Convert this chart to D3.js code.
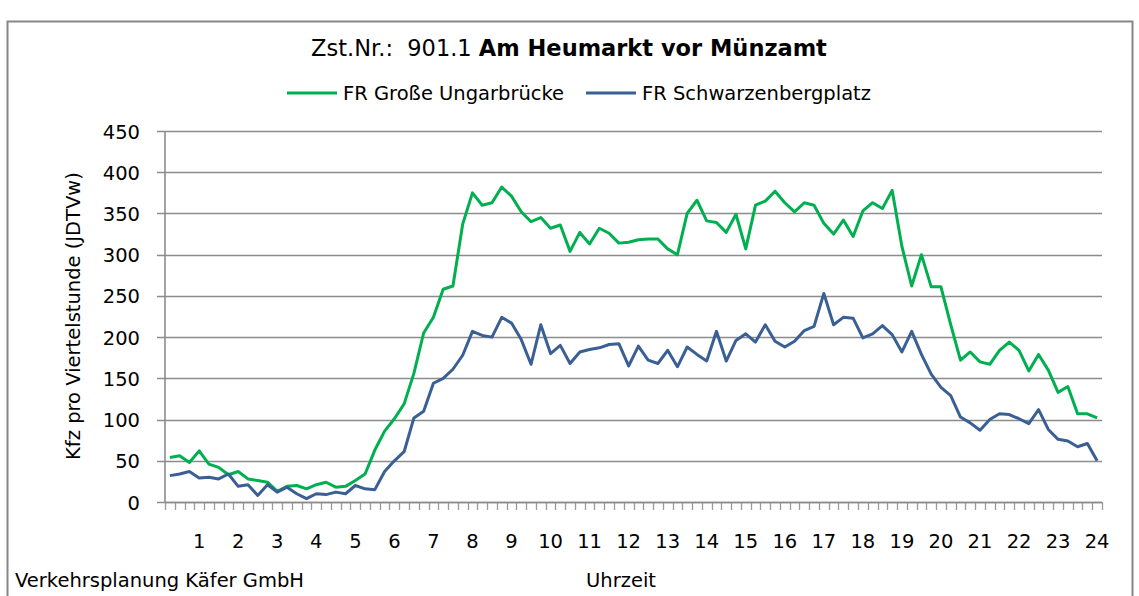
<!DOCTYPE html>
<html>
<head>
<meta charset="utf-8">
<script src="https://cdn.jsdelivr.net/npm/d3@7"></script>
<style>
  body { margin: 0; background: #fff; }
  text { font-family: "DejaVu Sans", sans-serif; fill: #000; }
</style>
</head>
<body>
<div id="chart"></div>
<script>
// quarter-hour values, 96 per series (00:15 ... 24:00)
var ungarbruecke = [
  54, 56, 48, 62, 46, 42, 33, 37, 28, 26, 24, 13, 19, 20, 16, 21,
  24, 18, 19, 26, 34, 63, 86, 101, 119, 156, 205, 224, 258, 262, 337, 375,
  360, 363, 382, 371, 352, 340, 345, 332, 336, 304, 327, 313, 332, 326, 314, 315,
  318, 319, 319, 307, 300, 350, 366, 341, 339, 327, 349, 307, 360, 365, 377, 363,
  352, 363, 360, 338, 325, 342, 322, 353, 363, 356, 378, 310, 262, 300, 261, 261,
  215, 172, 182, 170, 167, 184, 194, 184, 159, 179, 160, 133, 140, 107, 107, 102
];
var schwarzenberg = [
  32, 34, 37, 29, 30, 28, 34, 19, 21, 8, 21, 12, 18, 10, 4, 10,
  9, 12, 10, 20, 16, 15, 37, 50, 61, 102, 110, 144, 150, 161, 178, 207,
  202, 200, 224, 217, 197, 167, 215, 180, 190, 168, 182, 185, 187, 191, 192, 165,
  189, 172, 168, 184, 164, 188, 179, 171, 207, 171, 196, 204, 194, 215, 195, 188,
  195, 208, 213, 253, 215, 224, 223, 199, 204, 214, 203, 182, 207, 179, 155, 139,
  129, 103, 96, 87, 100, 107, 106, 101, 95, 112, 88, 76, 74, 67, 71, 50
];
var seriesNames = ["FR Große Ungarbrücke", "FR Schwarzenbergplatz"];
var seriesColors = ["#00b050", "#3a5f94"];
var yTicks = [0, 50, 100, 150, 200, 250, 300, 350, 400, 450];
var hourLabels = d3.range(1, 25);

var W = 1139, H = 596;
var plot = { left: 165, right: 1102, top: 131, bottom: 502 };
var fs = "19.5px";

var svg = d3.select("#chart")
    .append("svg")
    .attr("width", W)
    .attr("height", H);

// outer chart frame
svg.append("rect")
    .attr("x", 7.5).attr("y", 21.5)
    .attr("width", 1125).attr("height", 600)
    .attr("fill", "none")
    .attr("stroke", "#878787")
    .attr("stroke-width", 2);

var x = d3.scaleBand()
    .domain(d3.range(ungarbruecke.length))
    .range([plot.left, plot.right]);

var y = d3.scaleLinear()
    .domain([0, 450])
    .range([plot.bottom, plot.top]);

// horizontal gridlines (start a bit left of the axis, like outward ticks)
svg.append("g")
    .selectAll("line")
    .data(yTicks)
    .enter()
    .append("line")
    .attr("x1", plot.left - 8)
    .attr("x2", plot.right)
    .attr("y1", function (d) { return Math.round(y(d)) + 0.5; })
    .attr("y2", function (d) { return Math.round(y(d)) + 0.5; })
    .attr("stroke", "#8c8c8c")
    .attr("stroke-width", 1.6);

// y axis labels
var yAxis = svg.append("g")
    .attr("transform", "translate(" + (plot.left - 8) + ",0)")
    .call(d3.axisLeft(y).tickValues(yTicks).tickSize(0).tickPadding(17));
yAxis.select(".domain").remove();
yAxis.selectAll("text")
    .style("font-size", fs)
    .attr("dy", "0.36em");

// y axis line
svg.append("line")
    .attr("x1", plot.left).attr("x2", plot.left)
    .attr("y1", plot.top).attr("y2", plot.bottom)
    .attr("stroke", "#8c8c8c")
    .attr("stroke-width", 1.6);

// x tick marks at category boundaries
var bounds = x.domain().map(function (d) { return x(d); }).concat([plot.right]);
svg.append("g")
    .selectAll("line")
    .data(bounds)
    .enter()
    .append("line")
    .attr("x1", function (d) { return Math.round(d) + 0.5; })
    .attr("x2", function (d) { return Math.round(d) + 0.5; })
    .attr("y1", plot.bottom)
    .attr("y2", plot.bottom + 8)
    .attr("stroke", "#9a9a9a")
    .attr("stroke-width", 1.3);

// x axis labels: every fourth quarter-hour is a full hour
var labelIdx = hourLabels.map(function (h) { return h * 4 - 1; });
var xAxis = svg.append("g")
    .attr("transform", "translate(0," + plot.bottom + ")")
    .call(d3.axisBottom(x)
        .tickValues(labelIdx)
        .tickSize(0)
        .tickPadding(32)
        .tickFormat(function (d) { return (d + 1) / 4; }));
xAxis.select(".domain").remove();
xAxis.selectAll("text").style("font-size", fs);

// x axis line
svg.append("line")
    .attr("x1", plot.left).attr("x2", plot.right)
    .attr("y1", plot.bottom + 0.5).attr("y2", plot.bottom + 0.5)
    .attr("stroke", "#8c8c8c")
    .attr("stroke-width", 1.6);

// series lines
var line = d3.line()
    .x(function (d, i) { return x(i) + x.bandwidth() / 2; })
    .y(function (d) { return y(d); });

[ungarbruecke, schwarzenberg].forEach(function (s, k) {
    svg.append("path")
        .datum(s)
        .attr("d", line)
        .attr("fill", "none")
        .attr("stroke", seriesColors[k])
        .attr("stroke-width", 3)
        .attr("stroke-linejoin", "round");
});

// title
var title = svg.append("text")
    .attr("x", 569)
    .attr("y", 56)
    .attr("text-anchor", "middle")
    .style("font-size", "22.5px")
    .style("white-space", "pre");
title.append("tspan").text("Zst.Nr.:  901.1 ");
title.append("tspan").style("font-weight", "bold").text("Am Heumarkt vor Münzamt");

// legend
var legendX = [287, 586];
seriesNames.forEach(function (name, k) {
    var g = svg.append("g").attr("transform", "translate(" + legendX[k] + ",93)");
    g.append("line")
        .attr("x1", 0).attr("x2", 50)
        .attr("stroke", seriesColors[k])
        .attr("stroke-width", 3);
    g.append("text")
        .attr("x", 56)
        .attr("y", 7)
        .style("font-size", fs)
        .text(name);
});

// axis titles
svg.append("text")
    .attr("transform", "translate(80,316) rotate(-90)")
    .attr("text-anchor", "middle")
    .style("font-size", fs)
    .text("Kfz pro Viertelstunde (JDTVw)");

svg.append("text")
    .attr("x", 621)
    .attr("y", 587)
    .attr("text-anchor", "middle")
    .style("font-size", fs)
    .text("Uhrzeit");

svg.append("text")
    .attr("x", 15)
    .attr("y", 587)
    .style("font-size", fs)
    .text("Verkehrsplanung Käfer GmbH");
</script>
</body>
</html>
